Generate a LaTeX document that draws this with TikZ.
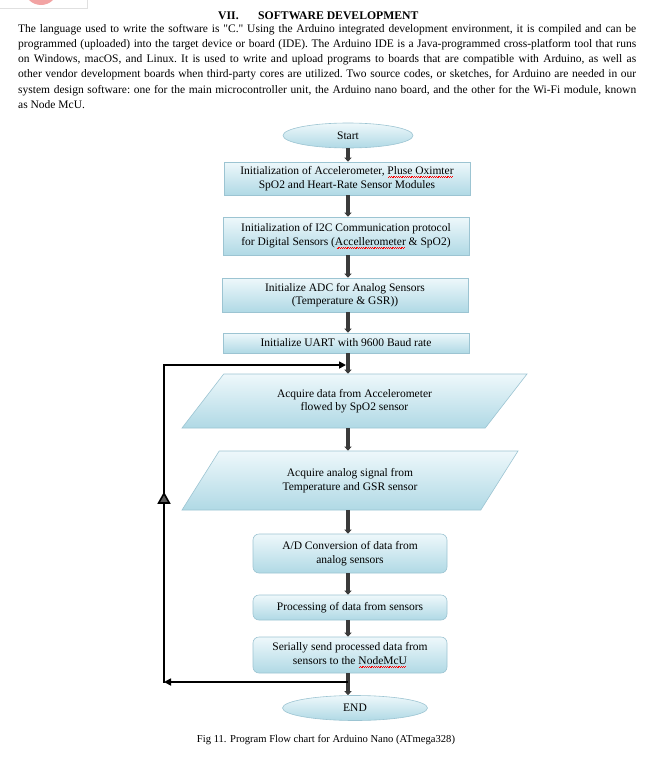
\documentclass[tikz,border=0pt]{standalone}
\usepackage{fontspec}
\setmainfont{Liberation Serif}[Ligatures=TeXOff]
\usetikzlibrary{shapes.geometric, arrows.meta, decorations.markings}

\definecolor{boxtop}{HTML}{EEF8FB}
\definecolor{boxbot}{HTML}{B0D9E5}
\definecolor{boxline}{HTML}{9CC4D2}
\definecolor{conn}{HTML}{3A3A3A}
\definecolor{logopink}{HTML}{F2A3A3}

\newsavebox{\sqbox}
\newcommand{\squig}[1]{\sbox{\sqbox}{#1}\rlap{\usebox{\sqbox}}\textcolor{red}{\leaders\hbox{\rule[-2.8pt]{0.9pt}{0.45pt}\rule[-2.2pt]{0.9pt}{0.45pt}}\hskip\wd\sqbox}}

\begin{document}
\begin{tikzpicture}[x=1pt,y=-1pt,
  txt/.style={font=\fontsize{11.5}{13.5}\selectfont},
  procbox/.style={txt, rectangle, draw=boxline, line width=0.6pt, top color=boxtop, bottom color=boxbot, align=center, inner sep=1pt, minimum width=246pt},
  roundbox/.style={procbox, rounded corners=6pt, minimum width=194pt},
  terminal/.style={txt, ellipse, draw=boxline, line width=0.6pt, top color=boxtop, bottom color=boxbot, inner sep=1pt},
  iobox/.style={txt, trapezium, trapezium stretches body=true, draw=boxline, line width=0.6pt, top color=boxtop, bottom color=boxbot, align=center, inner sep=1pt},
  flow/.style={draw=conn, line width=3.5pt, -{Triangle[width=7pt,length=4pt]}},
  loopline/.style={draw=black, line width=1.6pt},
  looptip/.style={-{Triangle[width=7pt,length=7pt]}},
  uptri/.style={postaction={decorate}, decoration={markings, mark=at position 0.6 with {\arrow{Triangle[width=13pt,length=12pt,fill=black!65]}}}}
]
\useasboundingbox (0,0) rectangle (646,758);

% cut-off logo at the top left
\begin{scope}
\clip (0,0) rectangle (100,10);
\fill[logopink] (41,-12) ellipse [x radius=17, y radius=17];
\draw[black!12, line width=0.5pt] (0,8) -- (87,8) -- (87,0);
\end{scope}

% heading and paragraph
\node[anchor=west, font=\fontsize{11.7}{13}\selectfont\bfseries, inner sep=0pt] (headnum) at (218,16) {VII.};
\node[anchor=west, font=\fontsize{11.7}{13}\selectfont\bfseries, inner sep=0pt] (head) at (258,16) {SOFTWARE DEVELOPMENT};
\node[anchor=north west, inner sep=0pt, text width=618pt, align=justify, font=\fontsize{11.5}{15.2}\selectfont\frenchspacing] (para) at (18,24)
{The language used to write the software is "C." Using the Arduino integrated development environment, it is compiled and can be\linebreak
programmed (uploaded) into the target device or board (IDE). The Arduino IDE is a Java-programmed cross-platform tool that runs\linebreak
on Windows, macOS, and Linux. It is used to write and upload programs to boards that are compatible with Arduino, as well as\linebreak
other vendor development boards when third-party cores are utilized. Two source codes, or sketches, for Arduino are needed in our\linebreak
system design software: one for the main microcontroller unit, the Arduino nano board, and the other for the Wi-Fi module, known\linebreak
as Node McU.};

% flow chart nodes
\node[terminal, minimum width=130pt, minimum height=25pt] (start) at (348,135.5) {Start};
\node[procbox, minimum height=33pt] (b1) at (347,178.5) {Initialization of Accelerometer, \squig{Pluse Oximter}\\SpO2 and Heart-Rate Sensor Modules};
\node[procbox, minimum height=38pt] (b2) at (346,236) {Initialization of I2C Communication protocol\\for Digital Sensors (\squig{Accellerometer} \& SpO2)};
\node[procbox, minimum height=34pt] (b3) at (345,295) {Initialize ADC for Analog Sensors\\(Temperature \& GSR))};
\node[procbox, minimum height=20pt] (b4) at (346,343) {Initialize UART with 9600 Baud rate};
\node[iobox, trapezium left angle=32, trapezium right angle=148, minimum width=345pt, minimum height=54pt] (p1) at (354.5,401) {Acquire data from Accelerometer\\flowed by SpO2 sensor};
\node[iobox, trapezium left angle=35, trapezium right angle=145, minimum width=336pt, minimum height=59pt] (p2) at (350,480.5) {Acquire analog signal from\\Temperature and GSR sensor};
\node[roundbox, minimum height=39pt] (b5) at (350,553.5) {A/D Conversion of data from\\analog sensors};
\node[roundbox, minimum height=25pt] (b6) at (350,607.5) {Processing of data from sensors};
\node[roundbox, minimum height=36pt] (b7) at (350,655) {Serially send processed data from\\sensors to the \squig{NodeMcU}};
\node[terminal, minimum width=145pt, minimum height=25pt] (stop) at (355,708) {END};

\node[font=\fontsize{10.6}{12}\selectfont, inner sep=0pt] (cap) at (326,740) {Fig 11. Program Flow chart for Arduino Nano (ATmega328)};

% spine and loop coordinates
\coordinate (spine) at (348,0);
\coordinate (jb) at (348,682);
\coordinate (cl) at (164,682);
\coordinate (cu) at (164,365);
\coordinate (ju) at (346,365);

% main connectors
\draw[flow] (start.south -| spine) -- (b1.north -| spine);
\draw[flow] (b1.south -| spine) -- (b2.north -| spine);
\draw[flow] (b2.south -| spine) -- (b3.north -| spine);
\draw[flow] (b3.south -| spine) -- (b4.north -| spine);
\draw[flow] (b4.south -| spine) -- (p1.north -| spine);
\draw[flow] (p1.south -| spine) -- (p2.north -| spine);
\draw[flow] (p2.south -| spine) -- (b5.north -| spine);
\draw[flow] (b5.south -| spine) -- (b6.north -| spine);
\draw[flow] (b6.south -| spine) -- (b7.north -| spine);
\draw[flow] (b7.south -| spine) -- (stop.north -| spine);

% loop back
\draw[loopline, looptip] (jb) -- (cl);
\draw[loopline, uptri, line cap=rect] (cl) -- (cu);
\draw[loopline, looptip] (cu) -- (ju);
\end{tikzpicture}
\end{document}
